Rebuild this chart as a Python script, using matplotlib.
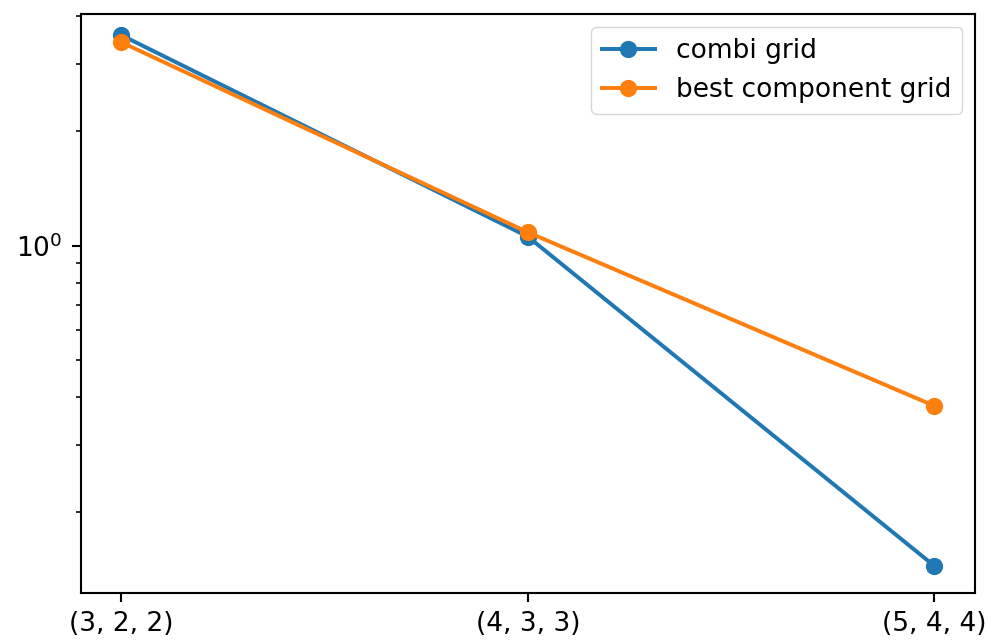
import numpy as np
import matplotlib
matplotlib.use("Agg")
import matplotlib.pyplot as plt

# error of the combination solution vs. the best single component grid
levels = ["(3, 2, 2)", "(4, 3, 3)", "(5, 4, 4)"]
combi_err = [3.57, 1.056, 0.1443]
best_err = [3.42, 1.084, 0.3796]

s = 1.9  # scale everything up from the default 100 dpi look
plt.rcParams.update({
    "font.size": 10 * s,
    "lines.linewidth": 1.5 * s,
    "lines.markersize": 6 * s,
    "axes.linewidth": 0.8 * s,
    "xtick.major.size": 3.5 * s,
    "xtick.major.width": 0.8 * s,
    "xtick.major.pad": 3.5 * s,
    "ytick.major.size": 3.5 * s,
    "ytick.major.width": 0.8 * s,
    "ytick.major.pad": 3.5 * s,
    "ytick.minor.size": 2 * s,
    "ytick.minor.width": 0.6 * s,
})

fig = plt.figure(figsize=(9.89, 6.44), dpi=100)
ax = fig.add_axes([80.5 / 989, (644 - 592.7) / 644, (975 - 80.5) / 989, (592.7 - 14) / 644])

x = np.arange(len(levels))
ax.plot(x, combi_err, marker="o", label="combi grid")
ax.plot(x, best_err, marker="o", label="best component grid")
ax.set_yscale("log")
ax.set_ylim(0.1227, 4.055)
ax.set_xticks(x)
ax.set_xticklabels(levels)
ax.legend(loc="upper right")

fig.savefig("out.png", dpi=100)
